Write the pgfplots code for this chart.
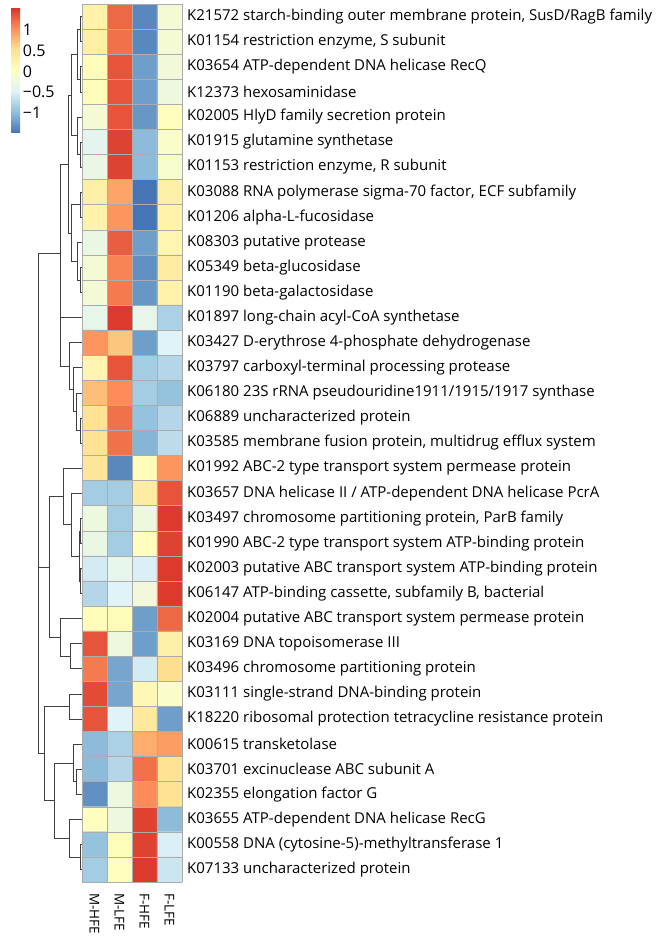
\documentclass[border=0pt]{standalone}
\usepackage{fontspec}
\setmainfont{Open Sans}
\usepackage{pgfplots}
\pgfplotsset{compat=1.18}
\pgfplotsset{
  colormap={rdylbu}{rgb255=(69,117,180) rgb255=(145,191,219) rgb255=(224,243,248) rgb255=(255,255,191) rgb255=(254,224,144) rgb255=(252,141,89) rgb255=(215,48,39)},
  dend/.style={black!75, line width=0.6pt, no marks},
}
\begin{document}
\begin{tikzpicture}
\useasboundingbox (0,0) rectangle (664pt,942pt);
% ---------------- heatmap ----------------
\begin{axis}[
  at={(82pt,60pt)}, anchor=south west,
  scale only axis, width=100pt, height=878pt,
  xmin=-0.5, xmax=3.5, ymin=0.5, ymax=35.5,
  y dir=reverse,
  colormap name=rdylbu,
  point meta min=-1.48, point meta max=1.55,
  axis on top,
  axis line style={draw=none},
  major tick length=0pt, minor tick length=0pt,
  grid=minor,
  minor grid style={gray!65, line width=0.5pt},
  minor xtick={-0.5,0.5,1.5,2.5,3.5},
  minor ytick={0.5,1.5,...,35.5},
  xtick={0,1,2,3},
  xticklabels={M-HFE,M-LFE,F-HFE,F-LFE},
  xticklabel style={rotate=-90, anchor=west, font=\fontsize{13.5}{15}\selectfont, inner sep=0pt},
  xticklabel shift=11pt,
  ytick={1,...,35},
  yticklabel pos=right,
  yticklabel style={anchor=west, font=\fontsize{15}{17}\selectfont, inner sep=0pt},
  yticklabel shift=5pt,
  yticklabels={
    {K21572 starch-binding outer membrane protein, SusD/RagB family},
    {K01154 restriction enzyme, S subunit},
    {K03654 ATP-dependent DNA helicase RecQ},
    {K12373 hexosaminidase},
    {K02005 HlyD family secretion protein},
    {K01915 glutamine synthetase},
    {K01153 restriction enzyme, R subunit},
    {K03088 RNA polymerase sigma-70 factor, ECF subfamily},
    {K01206 alpha-L-fucosidase},
    {K08303 putative protease},
    {K05349 beta-glucosidase},
    {K01190 beta-galactosidase},
    {K01897 long-chain acyl-CoA synthetase},
    {K03427 D-erythrose 4-phosphate dehydrogenase},
    {K03797 carboxyl-terminal processing protease},
    {K06180 23S rRNA pseudouridine1911/1915/1917 synthase},
    {K06889 uncharacterized protein},
    {K03585 membrane fusion protein, multidrug efflux system},
    {K01992 ABC-2 type transport system permease protein},
    {K03657 DNA helicase II / ATP-dependent DNA helicase PcrA},
    {K03497 chromosome partitioning protein, ParB family},
    {K01990 ABC-2 type transport system ATP-binding protein},
    {K02003 putative ABC transport system ATP-binding protein},
    {K06147 ATP-binding cassette, subfamily B, bacterial},
    {K02004 putative ABC transport system permease protein},
    {K03169 DNA topoisomerase III},
    {K03496 chromosome partitioning protein},
    {K03111 single-strand DNA-binding protein},
    {K18220 ribosomal protection tetracycline resistance protein},
    {K00615 transketolase},
    {K03701 excinuclease ABC subunit A},
    {K02355 elongation factor G},
    {K03655 ATP-dependent DNA helicase RecG},
    {K00558 DNA (cytosine-5)-methyltransferase 1},
    {K07133 uncharacterized protein}},
  colorbar,
  colorbar style={
    at={(parent axis.north west)}, anchor=north west,
    xshift=-79.3pt, yshift=-3pt,
    scale only axis, width=9pt, height=126pt,
    axis line style={draw=none},
    major tick length=0pt,
    ytick={-1,-0.5,0,0.5,1},
    yticklabels={−1,−0.5,0,0.5,1},
    yticklabel style={font=\fontsize{16}{18}\selectfont, inner sep=0pt, anchor=west},
    yticklabel shift=2.5pt,
  },
]
\addplot[matrix plot*, mesh/cols=4, mesh/rows=35, point meta=explicit] table[meta=c] {
x y c
0 1 0.25
1 1 1.25
2 1 -1.35
3 1 -0.15
0 2 0.3
1 2 1.2
2 2 -1.35
3 2 -0.15
0 3 0.1
1 3 1.35
2 3 -1.2
3 3 -0.2
0 4 0.1
1 4 1.35
2 4 -1.2
3 4 -0.25
0 5 -0.15
1 5 1.35
2 5 -1.25
3 5 0.05
0 6 -0.4
1 6 1.45
2 6 -1.0
3 6 -0.05
0 7 -0.3
1 7 1.45
2 7 -1.0
3 7 -0.1
0 8 0.3
1 8 0.9
2 8 -1.5
3 8 0.3
0 9 0.25
1 9 1.0
2 9 -1.5
3 9 0.25
0 10 -0.3
1 10 1.3
2 10 -1.2
3 10 0.2
0 11 -0.15
1 11 1.1
2 11 -1.3
3 11 0.35
0 12 -0.15
1 12 1.15
2 12 -1.25
3 12 0.25
0 13 -0.35
1 13 1.5
2 13 -0.35
3 13 -0.8
0 14 1.0
1 14 0.7
2 14 -1.2
3 14 -0.45
0 15 0.2
1 15 1.35
2 15 -0.85
3 15 -0.75
0 16 0.75
1 16 1.05
2 16 -0.85
3 16 -0.95
0 17 0.5
1 17 1.2
2 17 -0.95
3 17 -0.75
0 18 0.5
1 18 1.2
2 18 -1.05
3 18 -0.7
0 19 0.45
1 19 -1.35
2 19 0.1
3 19 1.0
0 20 -0.85
1 20 -0.85
2 20 0.35
3 20 1.35
0 21 -0.25
1 21 -0.85
2 21 -0.25
3 21 1.5
0 22 -0.3
1 22 -0.85
2 22 0.05
3 22 1.45
0 23 -0.55
1 23 -0.35
2 23 -0.5
3 23 1.5
0 24 -0.75
1 24 -0.45
2 24 -0.2
3 24 1.5
0 25 0.1
1 25 0.1
2 25 -1.2
3 25 1.25
0 26 1.35
1 26 -0.25
2 26 -1.2
3 26 0.3
0 27 1.15
1 27 -1.15
2 27 -0.55
3 27 0.55
0 28 1.4
1 28 -1.15
2 28 0.15
3 28 -0.05
0 29 1.35
1 29 -0.45
2 29 0.4
3 29 -1.2
0 30 -1.0
1 30 -0.8
2 30 0.85
3 30 0.95
0 31 -1.0
1 31 -0.75
2 31 1.2
3 31 0.5
0 32 -1.3
1 32 -0.25
2 32 1.05
3 32 0.5
0 33 0.05
1 33 -0.25
2 33 1.45
3 33 -1.0
0 34 -0.95
1 34 0.1
2 34 1.45
3 34 -0.5
0 35 -0.85
1 35 0.05
2 35 1.5
3 35 -0.6
};
\end{axis}
% ---------------- dendrogram ----------------
\begin{axis}[
  at={(30pt,60pt)}, anchor=south west,
  scale only axis, width=52pt, height=878pt,
  xmin=30, xmax=82, ymin=0.5, ymax=35.5,
  y dir=reverse, hide axis, clip=false,
]
\addplot[dend] coordinates {(82,1)(80,1)(80,2)(82,2)};
\addplot[dend] coordinates {(82,3)(80,3)(80,4)(82,4)};
\addplot[dend] coordinates {(80,1.5)(77.7,1.5)(77.7,3.5)(80,3.5)};
\addplot[dend] coordinates {(82,6)(80,6)(80,7)(82,7)};
\addplot[dend] coordinates {(82,5)(77.7,5)(77.7,6.5)(80,6.5)};
\addplot[dend] coordinates {(77.7,2.5)(71,2.5)(71,5.75)(77.7,5.75)};
\addplot[dend] coordinates {(82,8)(80,8)(80,9)(82,9)};
\addplot[dend] coordinates {(82,11)(80,11)(80,12)(82,12)};
\addplot[dend] coordinates {(82,10)(77.7,10)(77.7,11.5)(80,11.5)};
\addplot[dend] coordinates {(80,8.5)(71,8.5)(71,10.75)(77.7,10.75)};
\addplot[dend] coordinates {(71,4.125)(68.3,4.125)(68.3,9.625)(71,9.625)};
\addplot[dend] coordinates {(82,17)(80,17)(80,18)(82,18)};
\addplot[dend] coordinates {(82,16)(76.7,16)(76.7,17.5)(80,17.5)};
\addplot[dend] coordinates {(82,15)(73.3,15)(73.3,16.75)(76.7,16.75)};
\addplot[dend] coordinates {(82,14)(69.3,14)(69.3,15.875)(73.3,15.875)};
\addplot[dend] coordinates {(82,13)(60.5,13)(60.5,14.9375)(69.3,14.9375)};
\addplot[dend] coordinates {(68.3,6.875)(60,6.875)(60,13.96875)(60.5,13.96875)};
\addplot[dend] coordinates {(82,21)(80,21)(80,22)(82,22)};
\addplot[dend] coordinates {(82,23)(80,23)(80,24)(82,24)};
\addplot[dend] coordinates {(80,21.5)(79,21.5)(79,23.5)(80,23.5)};
\addplot[dend] coordinates {(82,20)(71,20)(71,22.5)(79,22.5)};
\addplot[dend] coordinates {(82,19)(63.3,19)(63.3,21.25)(71,21.25)};
\addplot[dend] coordinates {(82,26)(70,26)(70,27)(82,27)};
\addplot[dend] coordinates {(82,25)(60,25)(60,26.5)(70,26.5)};
\addplot[dend] coordinates {(63.3,20.125)(49.3,20.125)(49.3,25.75)(60,25.75)};
\addplot[dend] coordinates {(82,28)(69.3,28)(69.3,29)(82,29)};
\addplot[dend] coordinates {(82,31)(76,31)(76,32)(82,32)};
\addplot[dend] coordinates {(82,30)(73.3,30)(73.3,31.5)(76,31.5)};
\addplot[dend] coordinates {(82,34)(80,34)(80,35)(82,35)};
\addplot[dend] coordinates {(82,33)(69.3,33)(69.3,34.5)(80,34.5)};
\addplot[dend] coordinates {(73.3,30.75)(54.3,30.75)(54.3,33.75)(69.3,33.75)};
\addplot[dend] coordinates {(69.3,28.5)(44.3,28.5)(44.3,32.25)(54.3,32.25)};
\addplot[dend] coordinates {(49.3,22.9375)(38.7,22.9375)(38.7,30.375)(44.3,30.375)};
\addplot[dend] coordinates {(60,10.421875)(38,10.421875)(38,26.65625)(38.7,26.65625)};
\end{axis}
\end{tikzpicture}
\end{document}
